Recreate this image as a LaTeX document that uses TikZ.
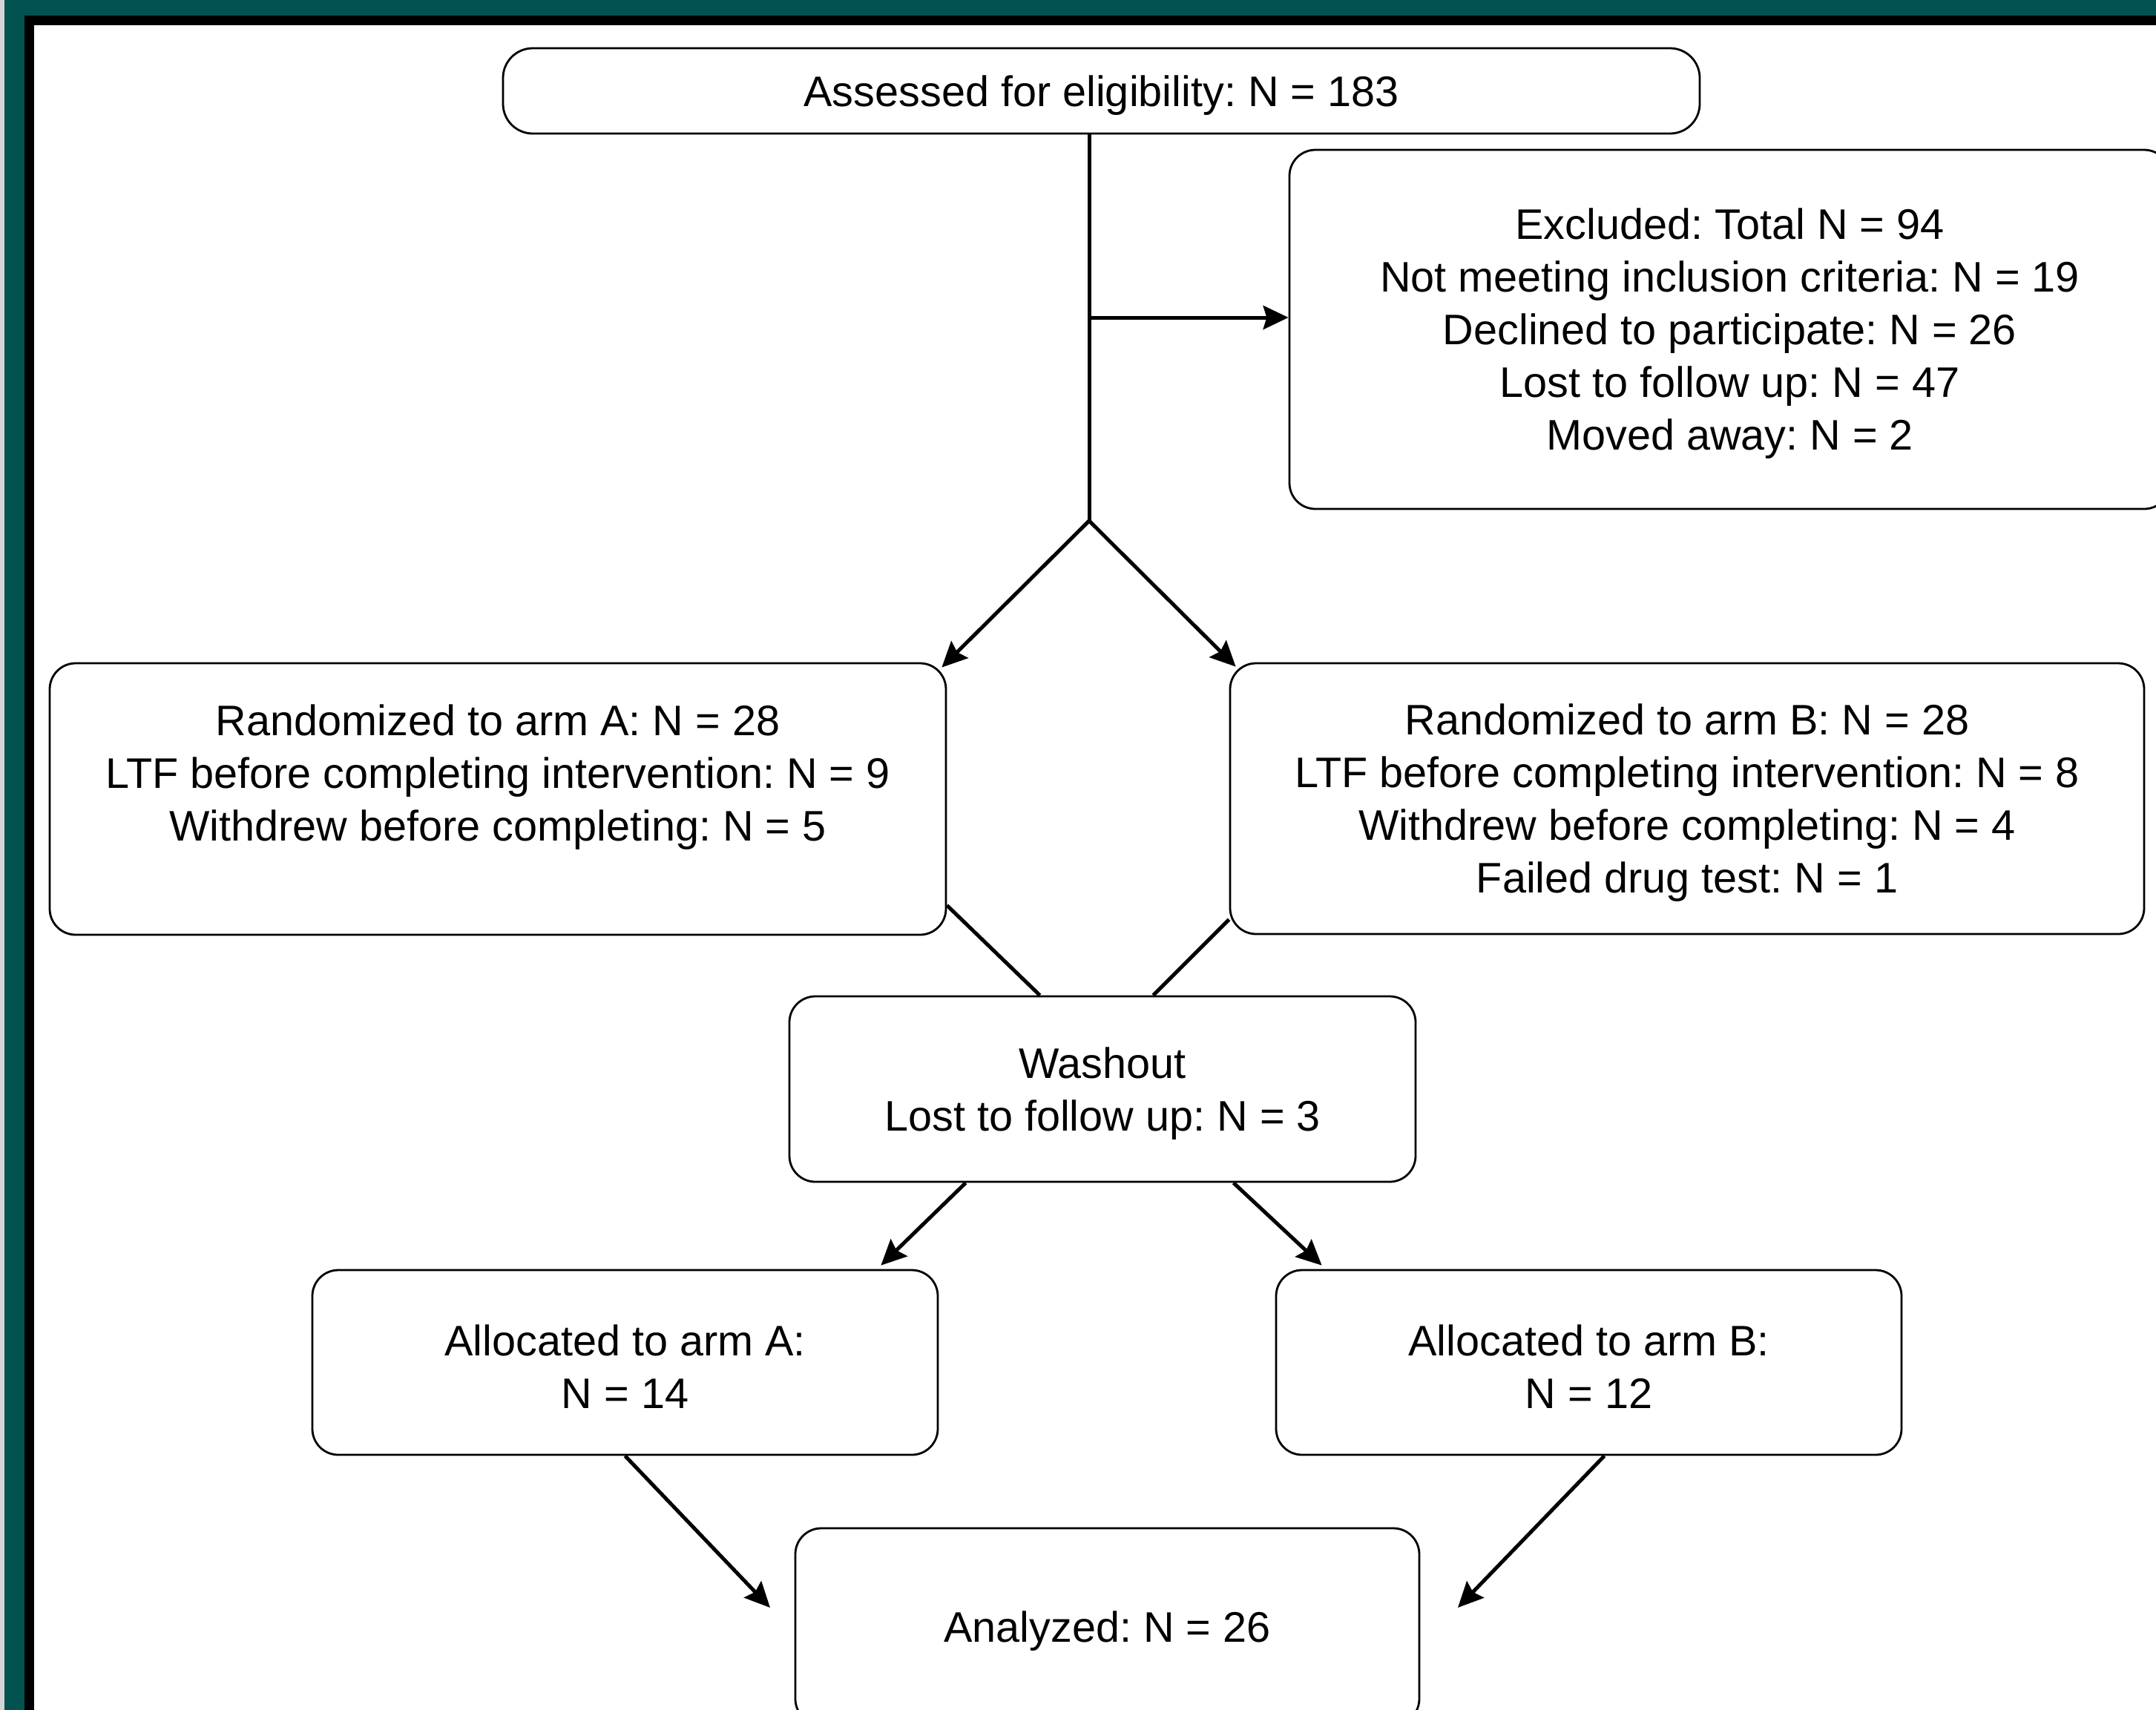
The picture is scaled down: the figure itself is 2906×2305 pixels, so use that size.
\documentclass[tikz,border=0pt]{standalone}
\usepackage{fontspec}
\setmainfont{Liberation Sans}
\usetikzlibrary{arrows.meta,calc}
\definecolor{frameteal}{RGB}{2,82,79}
\definecolor{edgegray}{RGB}{212,212,212}
\newcommand{\toppad}{\rule{0pt}{13.25pt}}
\frenchspacing
\begin{document}
\frenchspacing
\begin{tikzpicture}[x=0.25pt,y=-0.25pt,
  box/.style={draw=black, line width=0.7pt, rounded corners=8.75pt, fill=white,
    align=center, inner sep=0pt, text=black,
    font=\fontsize{14.4}{17.75}\selectfont},
  conn/.style={line width=1.25pt, draw=black},
  arr/.style={conn, -{Stealth[length=8.5pt,width=8pt,inset=1.2pt]}}]
\useasboundingbox (0,0) rectangle (2906,2305);
\clip (0,0) rectangle (2906,2305);
% frame
\fill[edgegray] (0,0) rectangle (6,2305);
\fill[frameteal] (6,0) rectangle (2906,2305);
\fill[black] (33,21) rectangle (2906,2305);
\fill[white] (46,34) rectangle (2906,2305);
% nodes
\node[box, rounded corners=10pt, minimum width=403.25pt, minimum height=28.75pt] (top) at (1484.5,122.5)
  {\toppad Assessed for eligibility: N = 183};
\node[box, minimum width=296.75pt, minimum height=121pt] (excl) at (2331.5,444)
  {\toppad Excluded: Total N = 94\\Not meeting inclusion criteria: N = 19\\Declined to participate: N = 26\\Lost to follow up: N = 47\\Moved away: N = 2};
\node[box, minimum width=302pt, minimum height=91.5pt] (A) at (671,1077)
  {\toppad Randomized to arm A: N = 28\\LTF before completing intervention: N = 9\\Withdrew before completing: N = 5\\\vphantom{g}};
\node[box, minimum width=308pt, minimum height=91.25pt] (B) at (2274,1076.5)
  {\toppad Randomized to arm B: N = 28\\LTF before completing intervention: N = 8\\Withdrew before completing: N = 4\\Failed drug test: N = 1};
\node[box, minimum width=211pt, minimum height=62.5pt] (wash) at (1486,1468)
  {\toppad Washout\\Lost to follow up: N = 3};
\node[box, minimum width=210.75pt, minimum height=62.25pt] (allocA) at (842.5,1836.5)
  {\toppad Allocated to arm A:\\N = 14};
\node[box, minimum width=210.75pt, minimum height=62.25pt] (allocB) at (2141.5,1836.5)
  {\toppad Allocated to arm B:\\N = 12};
\node[box, minimum width=210.25pt, minimum height=66.25pt] (anal) at (1492.5,2192.5)
  {\toppad Analyzed: N = 26};
% connectors
\coordinate (split) at (1468,702);
\coordinate (branch) at (1468,428);
\coordinate (endA) at (1038,2167);
\coordinate (endB) at (1965,2167);
\draw[conn] (split |- top.south) -- (split);
\draw[arr] (branch) -- (branch -| excl.west);
\draw[arr] (split) -- ($(A.north east)+(-7,7)$);
\draw[arr] (split) -- ($(B.north west)+(9,6)$);
\draw[conn] ($(A.south east)+(0,-41)$) -- ($(wash.north west)+(339,0)$);
\draw[conn] ($(B.south west)+(0,-21)$) -- ($(wash.north east)+(-355,0)$);
\draw[arr] ($(wash.south west)+(239,0)$) -- ($(allocA.north east)+(-78,-5)$);
\draw[arr] ($(wash.south west)+(600,0)$) -- ($(allocB.north west)+(63,-5)$);
\draw[arr] (allocA.south) -- (endA);
\draw[arr] ($(allocB.south)+(21,0)$) -- (endB);
\end{tikzpicture}
\end{document}
